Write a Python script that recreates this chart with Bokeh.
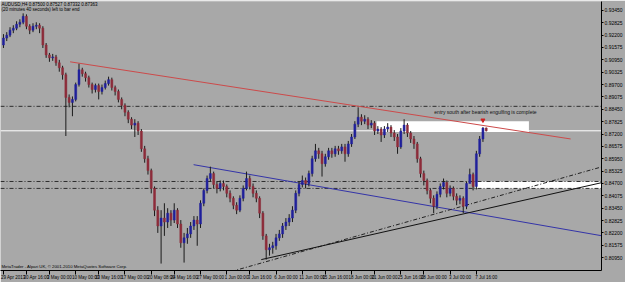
import pandas as pd
from bokeh.plotting import figure
from bokeh.models import (Range1d, FixedTicker, Span, Label, BoxAnnotation,
                          ColumnDataSource, PrintfTickFormatter)
from bokeh.embed import file_html
from bokeh.resources import INLINE

# ---------------- data (AUDUSD, H4) ----------------
opens = [0.9170, 0.9205, 0.9220, 0.9245, 0.9255, 0.9275, 0.9285, 0.9315, 0.9265, 0.9245,
         0.9265, 0.9270, 0.9255, 0.9170, 0.9120, 0.9105, 0.9110, 0.9080, 0.9055, 0.9020,
         0.8905, 0.8880, 0.8895, 0.8970, 0.9045, 0.9025, 0.9005, 0.8970, 0.8945, 0.8965,
         0.8935, 0.8955, 0.8975, 0.8995, 0.8955, 0.8935, 0.8895, 0.8865, 0.8830, 0.8795,
         0.8765, 0.8775, 0.8735, 0.8645, 0.8595, 0.8535, 0.8445, 0.8335, 0.8255, 0.8295,
         0.8275, 0.8320, 0.8285, 0.8335, 0.8265, 0.8170, 0.8195, 0.8215, 0.8255, 0.8285,
         0.8265, 0.8370, 0.8435, 0.8495, 0.8520, 0.8465, 0.8445, 0.8470, 0.8455, 0.8420,
         0.8395, 0.8360, 0.8335, 0.8395, 0.8445, 0.8495, 0.8455, 0.8420, 0.8395, 0.8320,
         0.8205, 0.8135, 0.8145, 0.8155, 0.8195, 0.8215, 0.8255, 0.8275, 0.8295, 0.8335,
         0.8420, 0.8465, 0.8485, 0.8470, 0.8520, 0.8595, 0.8635, 0.8620, 0.8570, 0.8605,
         0.8635, 0.8620, 0.8645, 0.8635, 0.8655, 0.8620, 0.8670, 0.8705, 0.8770, 0.8805,
         0.8785, 0.8795, 0.8765, 0.8775, 0.8735, 0.8745, 0.8715, 0.8745, 0.8755, 0.8725,
         0.8705, 0.8655, 0.8735, 0.8765, 0.8725, 0.8695, 0.8670, 0.8595, 0.8520, 0.8485,
         0.8435, 0.8395, 0.8355, 0.8415, 0.8455, 0.8475, 0.8420, 0.8445, 0.8405, 0.8385,
         0.8395, 0.8355, 0.8470, 0.8515, 0.8455, 0.8620, 0.8695, 0.87500]

closes = [0.9205, 0.9220, 0.9245, 0.9255, 0.9275, 0.9285, 0.9315, 0.9265, 0.9245, 0.9265,
          0.9270, 0.9255, 0.9170, 0.9120, 0.9105, 0.9110, 0.9080, 0.9055, 0.9020, 0.8905,
          0.8880, 0.8895, 0.8970, 0.9045, 0.9025, 0.9005, 0.8970, 0.8945, 0.8965, 0.8935,
          0.8955, 0.8975, 0.8995, 0.8955, 0.8935, 0.8895, 0.8865, 0.8830, 0.8795, 0.8765,
          0.8775, 0.8735, 0.8645, 0.8595, 0.8535, 0.8445, 0.8335, 0.8255, 0.8295, 0.8275,
          0.8320, 0.8285, 0.8335, 0.8265, 0.8170, 0.8195, 0.8215, 0.8255, 0.8285, 0.8265,
          0.8370, 0.8435, 0.8495, 0.8520, 0.8465, 0.8445, 0.8470, 0.8455, 0.8420, 0.8395,
          0.8360, 0.8335, 0.8395, 0.8445, 0.8495, 0.8455, 0.8420, 0.8395, 0.8320, 0.8205,
          0.8135, 0.8145, 0.8155, 0.8195, 0.8215, 0.8255, 0.8275, 0.8295, 0.8335, 0.8420,
          0.8465, 0.8485, 0.8470, 0.8520, 0.8595, 0.8635, 0.8620, 0.8570, 0.8605, 0.8635,
          0.8620, 0.8645, 0.8635, 0.8655, 0.8620, 0.8670, 0.8705, 0.8770, 0.8805, 0.8785,
          0.8795, 0.8765, 0.8775, 0.8735, 0.8745, 0.8715, 0.8745, 0.8755, 0.8725, 0.8705,
          0.8655, 0.8735, 0.8765, 0.8725, 0.8695, 0.8670, 0.8595, 0.8520, 0.8485, 0.8435,
          0.8395, 0.8355, 0.8415, 0.8455, 0.8475, 0.8420, 0.8445, 0.8405, 0.8385, 0.8395,
          0.8355, 0.8470, 0.8515, 0.8455, 0.8620, 0.8695, 0.8750, 0.87363]

highs = [0.9225, 0.9235, 0.9260, 0.9270, 0.9290, 0.9300, 0.9330, 0.9325, 0.9275, 0.9280,
         0.9285, 0.9280, 0.9265, 0.9180, 0.9130, 0.9125, 0.9120, 0.9095, 0.9065, 0.9030,
         0.8920, 0.8910, 0.8980, 0.9075, 0.9055, 0.9035, 0.9015, 0.8980, 0.8975, 0.8975,
         0.8970, 0.8990, 0.9010, 0.9005, 0.8965, 0.8945, 0.8905, 0.8875, 0.8840, 0.8805,
         0.8795, 0.8785, 0.8745, 0.8660, 0.8610, 0.8545, 0.8455, 0.8355, 0.8335, 0.8370,
         0.8345, 0.8335, 0.8370, 0.8345, 0.8285, 0.8220, 0.8245, 0.8275, 0.8305, 0.8305,
         0.8385, 0.8445, 0.8510, 0.8555, 0.8530, 0.8480, 0.8485, 0.8485, 0.8465, 0.8435,
         0.8405, 0.8375, 0.8410, 0.8460, 0.8530, 0.8510, 0.8470, 0.8435, 0.8405, 0.8330,
         0.8215, 0.8165, 0.8175, 0.8215, 0.8235, 0.8270, 0.8295, 0.8315, 0.8355, 0.8435,
         0.8480, 0.8510, 0.8500, 0.8535, 0.8610, 0.8670, 0.8650, 0.8635, 0.8620, 0.8650,
         0.8650, 0.8660, 0.8660, 0.8670, 0.8670, 0.8685, 0.8720, 0.8785, 0.8855, 0.8820,
         0.8815, 0.8805, 0.8790, 0.8785, 0.8760, 0.8755, 0.8760, 0.8775, 0.8765, 0.8740,
         0.8720, 0.8750, 0.8795, 0.8775, 0.8735, 0.8710, 0.8680, 0.8605, 0.8535, 0.8495,
         0.8445, 0.8410, 0.8430, 0.8470, 0.8495, 0.8485, 0.8460, 0.8455, 0.8420, 0.8410,
         0.8405, 0.8480, 0.8545, 0.8525, 0.8635, 0.8710, 0.8755, 0.87527]

lows = [0.9155, 0.9190, 0.9210, 0.9230, 0.9245, 0.9260, 0.9275, 0.9250, 0.9225, 0.9235,
        0.9250, 0.9230, 0.9155, 0.9105, 0.9085, 0.9090, 0.9065, 0.9035, 0.8995, 0.8710,
        0.8855, 0.8810, 0.8885, 0.8960, 0.9010, 0.8985, 0.8955, 0.8925, 0.8930, 0.8895,
        0.8920, 0.8945, 0.8965, 0.8940, 0.8915, 0.8880, 0.8845, 0.8810, 0.8775, 0.8745,
        0.8705, 0.8715, 0.8630, 0.8575, 0.8515, 0.8420, 0.8305, 0.8220, 0.8065, 0.8205,
        0.8245, 0.8255, 0.8270, 0.8245, 0.8145, 0.8070, 0.8165, 0.8195, 0.8235, 0.8155,
        0.8245, 0.8355, 0.8420, 0.8480, 0.8445, 0.8420, 0.8430, 0.8435, 0.8400, 0.8375,
        0.8340, 0.8315, 0.8325, 0.8380, 0.8435, 0.8440, 0.8400, 0.8375, 0.8295, 0.8185,
        0.8085, 0.8105, 0.8115, 0.8135, 0.8180, 0.8195, 0.8235, 0.8255, 0.8275, 0.8320,
        0.8405, 0.8450, 0.8445, 0.8455, 0.8505, 0.8580, 0.8595, 0.8505, 0.8555, 0.8590,
        0.8600, 0.8605, 0.8615, 0.8620, 0.8580, 0.8605, 0.8655, 0.8695, 0.8755, 0.8765,
        0.8770, 0.8745, 0.8750, 0.8715, 0.8720, 0.8680, 0.8700, 0.8730, 0.8705, 0.8685,
        0.8620, 0.8645, 0.8720, 0.8705, 0.8675, 0.8645, 0.8575, 0.8500, 0.8460, 0.8415,
        0.8370, 0.8320, 0.8340, 0.8400, 0.8440, 0.8400, 0.8405, 0.8385, 0.8360, 0.8365,
        0.8320, 0.8340, 0.8495, 0.8435, 0.8440, 0.8605, 0.8680, 0.87332]

# time axis labels (bar index where each label starts -> label)
x_tick_bars = [0, 7, 14, 22, 29, 37, 45, 52, 60, 68, 75, 83, 91, 98, 106, 113, 121, 128, 136, 144]
x_tick_labels = ["29 Apr 2013", "30 Apr 16:00", "3 May 00:00", "10 May 00:00", "13 May 16:00",
                 "17 May 00:00", "20 May 08:00", "24 May 16:00", "27 May 00:00", "1 Jun 00:00",
                 "3 Jun 16:00", "6 Jun 00:00", "11 Jun 00:00", "15 Jun 16:00", "18 Jun 00:00",
                 "21 Jun 00:00", "25 Jun 16:00", "28 Jun 00:00", "3 Jul 00:00", "7 Jul 16:00"]

# price scale labels
y_tick_values = [0.93450, 0.92825, 0.92200, 0.91575, 0.90950, 0.90325, 0.89700, 0.89075,
                 0.88450, 0.87825, 0.87200, 0.86575, 0.85950, 0.85325, 0.84700, 0.84075,
                 0.83450, 0.82825, 0.82200, 0.81575, 0.80950]

# horizontal line objects
hline_prices = [0.88600, 0.84800, 0.84450]
bid_price = 0.87363

# trend lines: (bar0, price0, bar1, price1)
red_line = [20.3, 0.9085, 172.7, 0.8695]
blue_line = [57.9, 0.8565, 182.4, 0.8205]
dashdot_line = [69.4, 0.8025, 182.4, 0.8555]
black_line = [78.5, 0.8085, 182.4, 0.8475]

# rectangles: (bar_left, bar_right, price_bottom, price_top)
rect_upper = [113.6, 160.0, 0.8730, 0.8785]
rect_lower = [143.6, 184.2, 0.8445, 0.8480]

note_text = "entry south after bearish engulfing is complete"
note_pos = [131.2, 0.8830]
arrow_pos = [146, 0.8790]

# ---------------- figure ----------------
BG = "#a8a8a8"
FONT = "Liberation Sans"
X0, X1 = -0.9, 182.1
Y0, Y1 = 0.8030, 0.9390

n = len(closes)
df = pd.DataFrame({"i": list(range(n)), "o": opens, "h": highs, "l": lows, "c": closes})
df["top"] = df[["o", "c"]].max(axis=1)
df["bot"] = df[["o", "c"]].min(axis=1)
df["col"] = ["#20209c" if c >= o else "#8e2c3a" for o, c in zip(df["o"], df["c"])]
src = ColumnDataSource(df)

p = figure(width=625, height=282, output_backend="svg", toolbar_location=None,
           x_range=Range1d(X0, X1), y_range=Range1d(Y0, Y1),
           x_axis_location="below", y_axis_location="right",
           min_border_left=0, min_border_top=1, min_border_bottom=0, min_border_right=0)
p.background_fill_color = BG
p.border_fill_color = BG
p.outline_line_color = None
p.xgrid.visible = False
p.ygrid.visible = False

# x axis: label text placed to the right of its separator tick (MT4 style)
label_centres = [b + 3.0 for b in x_tick_bars]
xa = p.xaxis[0]
xa.ticker = FixedTicker(ticks=label_centres, minor_ticks=x_tick_bars)
xa.major_label_overrides = {c: t for c, t in zip(label_centres, x_tick_labels)}
xa.major_label_text_font = FONT
xa.major_label_text_font_size = "4.5px"
xa.major_label_text_color = "#000000"
xa.major_label_standoff = 0
xa.major_tick_out = 0
xa.major_tick_in = 0
xa.minor_tick_out = 4
xa.minor_tick_in = 0
xa.axis_line_color = "#000000"
xa.minor_tick_line_color = "#000000"

# y axis
ya = p.yaxis[0]
ya.ticker = FixedTicker(ticks=y_tick_values)
ya.formatter = PrintfTickFormatter(format="%.5f")
ya.major_label_text_font = FONT
ya.major_label_text_font_size = "5px"
ya.major_label_text_color = "#000000"
ya.major_label_standoff = 1
ya.major_tick_out = 2
ya.major_tick_in = 0
ya.minor_tick_out = 0
ya.minor_tick_in = 0
ya.axis_line_color = "#000000"
ya.major_tick_line_color = "#000000"

# rectangles (behind candles)
for r in (rect_upper, rect_lower):
    p.add_layout(BoxAnnotation(left=r[0], right=r[1], bottom=r[2], top=r[3],
                               fill_color="white", fill_alpha=1.0, line_color=None,
                               level="underlay"))

# horizontal lines
for hp in hline_prices:
    p.add_layout(Span(location=hp, dimension="width", line_color="#2e2e2e",
                      line_width=1, line_dash="4 2 1 2", level="underlay"))
p.add_layout(Span(location=bid_price, dimension="width", line_color="white",
                  line_width=1, level="underlay"))

# trend lines
p.segment(x0=[red_line[0]], y0=[red_line[1]], x1=[red_line[2]], y1=[red_line[3]],
          line_color="#cc4a4a", line_width=1)
p.segment(x0=[blue_line[0]], y0=[blue_line[1]], x1=[blue_line[2]], y1=[blue_line[3]],
          line_color="#3434a8", line_width=1)
p.segment(x0=[dashdot_line[0]], y0=[dashdot_line[1]], x1=[dashdot_line[2]], y1=[dashdot_line[3]],
          line_color="#222222", line_width=1, line_dash="4 2 1 2")
p.segment(x0=[black_line[0]], y0=[black_line[1]], x1=[black_line[2]], y1=[black_line[3]],
          line_color="#111111", line_width=1)

# candles
p.segment(x0="i", y0="l", x1="i", y1="h", source=src, line_color="#1a1a1a", line_width=1)
p.vbar(x="i", width=0.6, top="top", bottom="bot", source=src,
       fill_color="col", line_color="col", line_width=0.5)

# note + arrow
p.add_layout(Label(x=note_pos[0], y=note_pos[1], text=note_text, text_font=FONT,
                   text_font_size="5px", text_color="#111111", text_baseline="middle",
                   text_align="left"))
p.scatter(x=[arrow_pos[0]], y=[arrow_pos[1]], marker="inverted_triangle", size=4,
          fill_color="#d02020", line_color="#d02020")

# header texts
p.add_layout(Label(x=X0 + 0.3, y=Y1 - 0.0002, text="AUDUSD,H4  0.87500 0.87527 0.87332 0.87363",
                   text_font=FONT, text_font_size="4.5px", text_color="#000000",
                   text_baseline="top", text_align="left"))
p.add_layout(Label(x=X0 + 0.3, y=Y1 - 0.0030, text="(20 minutes 40 seconds) left to bar end",
                   text_font=FONT, text_font_size="4.5px", text_color="#000000",
                   text_baseline="top", text_align="left"))
p.add_layout(Label(x=X0 + 0.3, y=Y0 + 0.0010,
                   text="MetaTrader - Alpari UK, \u00a9 2001-2010 MetaQuotes Software Corp.",
                   text_font=FONT, text_font_size="4.3px", text_color="#000000",
                   text_baseline="bottom", text_align="left"))

# price tags on the price scale
for tag in hline_prices + [bid_price]:
    p.add_layout(Label(x=X1, y=tag, x_offset=1, text="%.5f" % tag, text_font=FONT,
                       text_font_size="5px", text_color="white", text_baseline="middle",
                       text_align="left", background_fill_color="black"))

open("out.html", "w").write(file_html(p, INLINE))
